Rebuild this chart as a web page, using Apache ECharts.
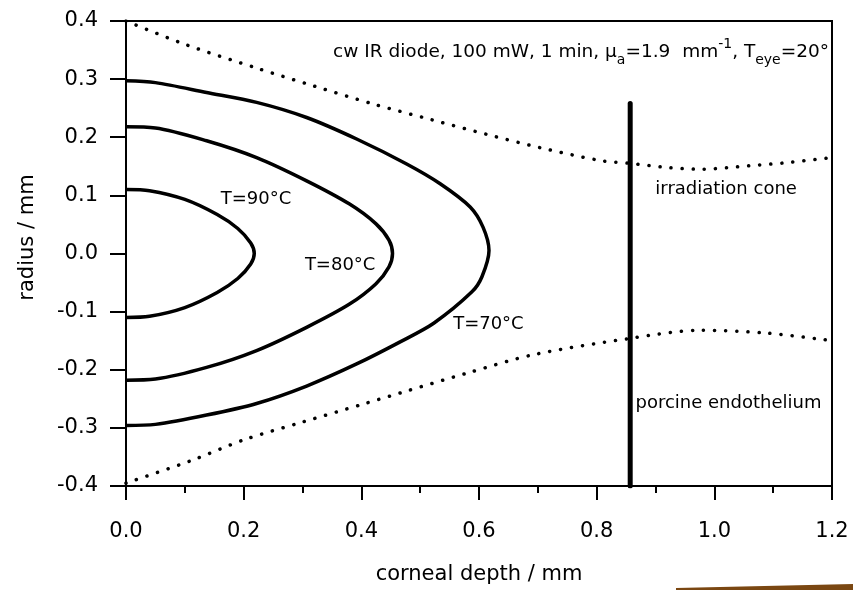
<!DOCTYPE html>
<html>
<head>
<meta charset="utf-8">
<title>corneal temperature contours</title>
<script src="https://cdn.jsdelivr.net/npm/echarts@6/dist/echarts.min.js"></script>
<style>
  html, body { margin: 0; padding: 0; background: #fff; }
  #chart { width: 853px; height: 590px; }
</style>
</head>
<body>
<div id="chart"></div>
<script>
// isotherms, [depth mm, radius mm]
const contour90 = [
  [0, 0.110], [0.04, 0.108], [0.1, 0.093], [0.155, 0.067], [0.19, 0.043], [0.212, 0.018], [0.218, 0],
  [0.212, -0.018], [0.19, -0.043], [0.155, -0.067], [0.1, -0.093], [0.04, -0.108], [0, -0.110]
]
const contour80 = [
  [0, 0.218], [0.05, 0.216], [0.137, 0.194], [0.222, 0.165], [0.307, 0.125], [0.38, 0.085], [0.425, 0.051],
  [0.447, 0.023], [0.453, 0], [0.447, -0.023], [0.425, -0.052], [0.38, -0.087], [0.307, -0.127],
  [0.222, -0.167], [0.137, -0.196], [0.05, -0.216], [0, -0.218]
]
const contour70 = [
  [0, 0.297], [0.05, 0.294], [0.137, 0.277], [0.222, 0.26], [0.307, 0.234], [0.392, 0.197], [0.477, 0.154],
  [0.534, 0.12], [0.585, 0.08], [0.607, 0.045], [0.617, 0.005], [0.605, -0.04], [0.588, -0.066],
  [0.523, -0.12], [0.466, -0.152], [0.392, -0.19], [0.307, -0.228], [0.222, -0.258], [0.137, -0.278],
  [0.05, -0.294], [0, -0.296]
]
// irradiation cone boundaries
const coneUpper = [
  [0, 0.40], [0.1, 0.36], [0.222, 0.319], [0.32, 0.288], [0.421, 0.257], [0.52, 0.23], [0.613, 0.205],
  [0.704, 0.182], [0.806, 0.16], [0.857, 0.155], [0.92, 0.148], [0.976, 0.145], [1.06, 0.151],
  [1.12, 0.156], [1.2, 0.165]
]
const coneLower = [
  [0, -0.395], [0.109, -0.357], [0.202, -0.32], [0.3, -0.29], [0.4, -0.26], [0.466, -0.24], [0.579, -0.206],
  [0.693, -0.174], [0.857, -0.146], [0.976, -0.132], [1.09, -0.137], [1.2, -0.15]
]
// endothelium position
const endothelium = [[0.857, -0.4], [0.857, 0.258]]

const labelNames = ['T=90°C', 'T=80°C', 'T=70°C', 'irradiation cone', 'porcine endothelium']
const labelX = [0.221, 0.364, 0.616, 1.02, 1.024]
const labelY = [0.094, -0.020, -0.122, 0.111, -0.257]

const FONT = 'DejaVu Sans'

const chart = echarts.init(document.getElementById('chart'))

const solid = (data) => ({
  type: 'line',
  data: data,
  smooth: 0.3,
  symbol: 'none',
  lineStyle: { color: '#000', width: 3.5 }
})
const dotted = (data) => ({
  type: 'line',
  data: data,
  smooth: 0.3,
  symbol: 'none',
  lineStyle: { color: '#000', width: 3.5, type: [0.1, 11], cap: 'round' }
})

chart.setOption({
  animation: false,
  grid: {
    left: 126, right: 21, top: 21, bottom: 102,
    show: true, borderColor: '#000', borderWidth: 2
  },
  xAxis: {
    type: 'value',
    min: 0, max: 1.2, interval: 0.2,
    name: 'corneal depth / mm',
    nameLocation: 'middle',
    nameGap: 78,
    nameTextStyle: { color: '#000', fontSize: 21, fontFamily: FONT },
    axisLine: { show: true, onZero: false, lineStyle: { color: '#000', width: 2 } },
    axisTick: { show: true, inside: false, length: 14, lineStyle: { color: '#000', width: 2 } },
    minorTick: { show: true, splitNumber: 2, length: 7, lineStyle: { color: '#000', width: 2 } },
    splitLine: { show: false },
    axisLabel: {
      color: '#000', fontSize: 21, fontFamily: FONT, margin: 35,
      formatter: (v) => v.toFixed(1)
    }
  },
  yAxis: {
    type: 'value',
    min: -0.4, max: 0.4, interval: 0.1,
    name: 'radius / mm',
    nameLocation: 'middle',
    nameGap: 88,
    nameTextStyle: { color: '#000', fontSize: 21, fontFamily: FONT, padding: [0, 0, 0, 32] },
    axisLine: { show: true, onZero: false, lineStyle: { color: '#000', width: 2 } },
    axisTick: { show: true, inside: false, length: 16, lineStyle: { color: '#000', width: 2 } },
    splitLine: { show: false },
    axisLabel: {
      color: '#000', fontSize: 21, fontFamily: FONT, margin: 28,
      showMinLabel: true, showMaxLabel: true,
      formatter: (v) => v.toFixed(1)
    }
  },
  graphic: [
    {
      type: 'text',
      x: 829, y: 52,
      style: {
        text: 'cw IR diode, 100 mW, 1 min, μ{sub|a}=1.9  mm{sup|-1}, T{sub|eye}=20°',
        fontSize: 18.5, fontFamily: FONT, fill: '#000',
        align: 'right', verticalAlign: 'middle',
        lineHeight: 30,
        rich: {
          sub: { fontSize: 14, fontFamily: FONT, fill: '#000', verticalAlign: 'bottom', lineHeight: 30 },
          sup: { fontSize: 14, fontFamily: FONT, fill: '#000', verticalAlign: 'top', lineHeight: 30 }
        }
      }
    },
    {
      type: 'polygon',
      shape: { points: [[676, 588], [853, 584], [853, 590], [676, 590]] },
      style: { fill: '#7a4712' }
    }
  ],
  series: [
    solid(contour90),
    solid(contour80),
    solid(contour70),
    dotted(coneUpper),
    dotted(coneLower),
    {
      type: 'line',
      data: endothelium,
      symbol: 'none',
      lineStyle: { color: '#000', width: 5, cap: 'round' }
    },
    {
      type: 'scatter',
      symbolSize: 0,
      itemStyle: { color: '#000', opacity: 1 },
      data: labelNames.map((n, i) => ({ name: n, value: [labelX[i], labelY[i]] })),
      label: {
        show: true,
        position: [0, 0],
        align: 'center',
        verticalAlign: 'middle',
        formatter: (p) => p.name,
        color: '#000',
        textBorderWidth: 0,
        fontSize: 18,
        fontFamily: FONT
      }
    }
  ]
})
</script>
</body>
</html>
